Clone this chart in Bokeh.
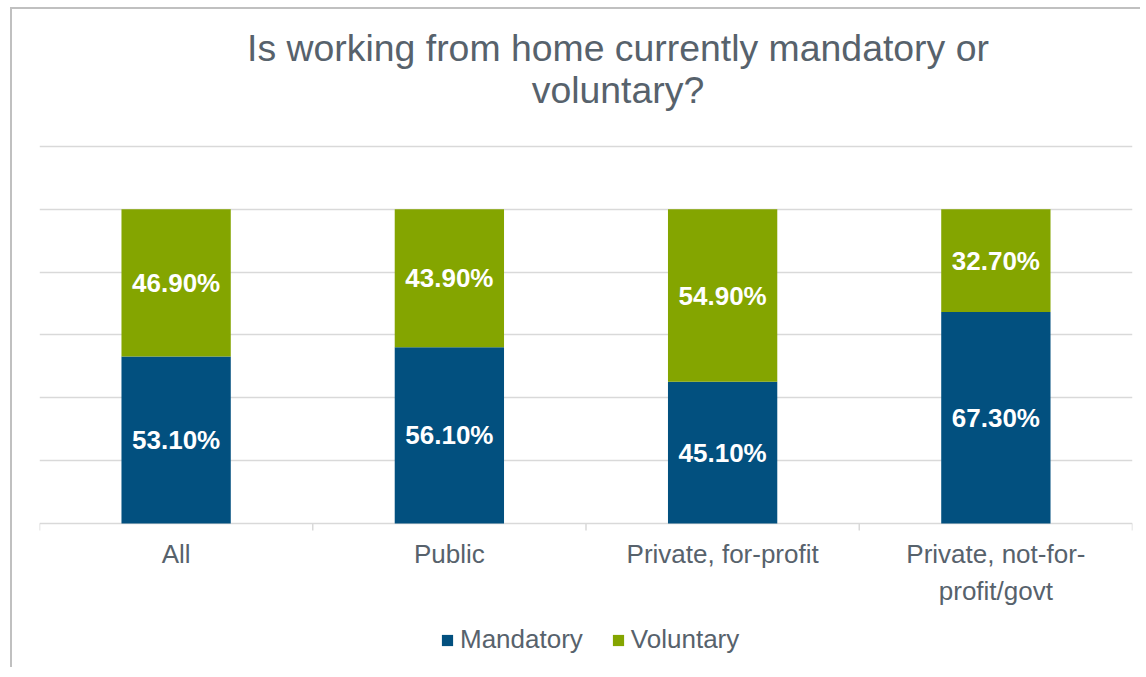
from bokeh.plotting import figure
from bokeh.models import (ColumnDataSource, Range1d, FixedTicker, LabelSet, Legend, LegendItem)
from bokeh.core.properties import value
from bokeh.embed import file_html
from bokeh.resources import INLINE

# ---- data ----
categories = ["All", "Public", "Private, for-profit", "Private, not-for-\nprofit/govt"]
mandatory = [53.1, 56.1, 45.1, 67.3]
voluntary = [46.9, 43.9, 54.9, 32.7]
series_names = ["Mandatory", "Voluntary"]
series_colors = ["#02507F", "#84A500"]
grid_values = [0.0, 0.2, 0.4, 0.6, 0.8, 1.0, 1.2]
title_lines = ["Is working from home currently mandatory or", "voluntary?"]

TEXT = "#57626C"
GRID = "#D9D9D9"
FONT = "Liberation Sans"

n = len(categories)
xpos = [i + 0.5 for i in range(n)]
bounds = [float(i) for i in range(n + 1)]
mand = [v / 100 for v in mandatory]
vol = [v / 100 for v in voluntary]

source = ColumnDataSource(dict(x=xpos, mandatory=mand, voluntary=vol))

p = figure(width=1130, height=660, output_backend="svg", toolbar_location=None,
           title_location=None,
           x_range=Range1d(0, n), y_range=Range1d(-0.465, 1.636),
           min_border_left=27, min_border_right=10, min_border_top=0, min_border_bottom=0)
p.styles = {"border-left": "2px solid #C0C0C0", "border-top": "2px solid #C0C0C0",
            "margin-left": "10px", "margin-top": "7px"}
p.outline_line_color = None
p.background_fill_color = "white"
p.border_fill_color = "white"
p.xaxis.visible = False
p.yaxis.visible = False
p.xgrid.visible = False
p.ygrid.ticker = FixedTicker(ticks=grid_values)
p.ygrid.grid_line_color = GRID
p.ygrid.grid_line_width = 1.5

rs = p.vbar_stack(["mandatory", "voluntary"], x="x", width=0.4, color=series_colors,
                  line_color=None, source=source)

# category boundary ticks below the baseline
p.segment(x0=bounds, y0=[0] * len(bounds), x1=bounds, y1=[-0.0223] * len(bounds),
          line_color=GRID, line_width=1.5)

# category labels
p.text(x=xpos, y=[-0.051] * n, text=categories, text_align="center", text_baseline="top",
       text_font=value(FONT), text_font_size=value("26px"), text_color=TEXT,
       text_line_height=1.23)

# value labels
lab_src = ColumnDataSource(dict(
    x=xpos + xpos,
    y=[m / 2 for m in mand] + [m + v / 2 for m, v in zip(mand, vol)],
    t=[f"{v:.2f}%" for v in mandatory] + [f"{v:.2f}%" for v in voluntary],
))
labels = LabelSet(x="x", y="y", text="t", source=lab_src, text_align="center",
                  text_baseline="middle", text_color="white", text_font=value(FONT),
                  text_font_style="bold", text_font_size=value("26px"))
p.add_layout(labels)

# chart title, two centred lines above the plot area
p.text(x=[2.117, 2.117], y=[1.514, 1.381], text=title_lines, text_align="center",
       text_baseline="alphabetic", text_font=value(FONT), text_font_size=value("37.4px"),
       text_color=TEXT)

legend = Legend(items=[LegendItem(label=s, renderers=[r]) for s, r in zip(series_names, rs)],
                orientation="horizontal", location=(401, 14),
                label_text_font=FONT, label_text_font_size="26px",
                label_text_color=TEXT, glyph_width=14, glyph_height=14,
                label_standoff=6, spacing=28, padding=0, margin=0,
                border_line_color=None, background_fill_alpha=0)
p.add_layout(legend)

open("out.html", "w").write(file_html(p, INLINE))
